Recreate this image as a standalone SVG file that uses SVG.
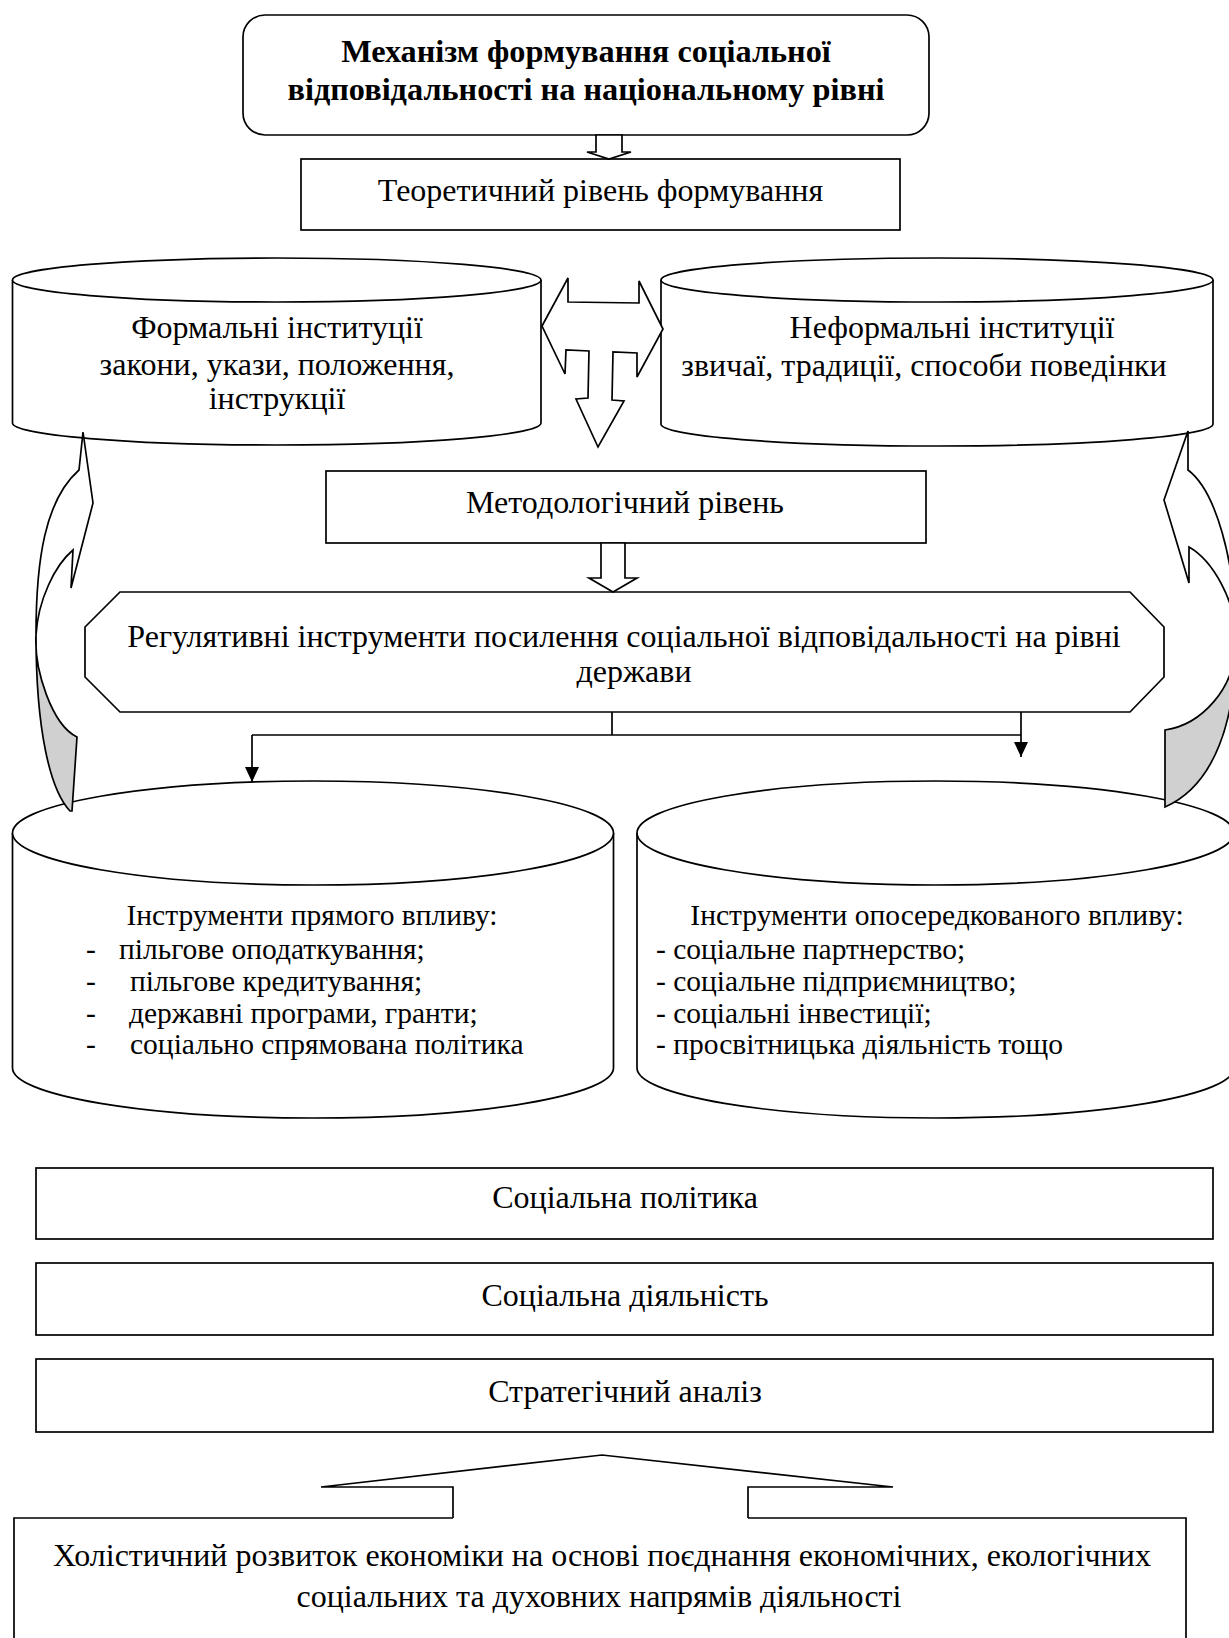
<svg xmlns="http://www.w3.org/2000/svg" width="1229" height="1638" viewBox="0 0 1229 1638">
<style>
.s{fill:#fff;stroke:#000;stroke-width:1.7}
.l{fill:none;stroke:#000;stroke-width:1.7}
.g{fill:#d0d0d0;stroke:#000;stroke-width:1.7}
.t{font-family:"Liberation Serif","Times New Roman",serif;font-size:32px;fill:#000}
.m{text-anchor:middle}
.b{font-weight:bold;font-size:32.3px}
.sm{font-size:29.5px}
</style>
<defs>
<marker id="ah" markerWidth="15" markerHeight="14" refX="15" refY="7" orient="auto" markerUnits="userSpaceOnUse"><path d="M0,0 L15,7 L0,14 Z" fill="#000"/></marker>
</defs>
<rect width="1229" height="1638" fill="#fff"/>

<g id="title">
<rect class="s" x="243" y="15" width="686" height="120" rx="22" ry="22"/>
<text class="t b m" x="586" y="62">Механізм формування соціальної</text>
<text class="t b m" x="586" y="100">відповідальності на національному рівні</text>
</g>

<g id="theoretical">
<rect class="s" x="301" y="159" width="599" height="71"/>
<text class="t m" x="600.5" y="201">Теоретичний рівень формування</text>
</g>

<g id="formal">
<path class="s" d="M12.5,280 V423 A264.25,22 0 0 0 541,423 V280"/>
<ellipse class="s" cx="276.75" cy="280" rx="264.25" ry="22"/>
<text class="t m" x="277" y="338">Формальні інституції</text>
<text class="t m" x="277" y="375">закони, укази, положення,</text>
<text class="t m" x="277" y="409">інструкції</text>
</g>

<g id="informal">
<path class="s" d="M661,280 V424 A276,22 0 0 0 1213,424 V280"/>
<ellipse class="s" cx="937" cy="280" rx="276" ry="22"/>
<text class="t m" x="952" y="338">Неформальні інституції</text>
<text class="t m" x="924" y="376">звичаї, традиції, способи поведінки</text>
</g>

<g id="methodological">
<rect class="s" x="326" y="471" width="600" height="72"/>
<text class="t m" x="625" y="513">Методологічний рівень</text>
</g>

<g id="regulatory">
<polygon class="s" points="120,592 1130,592 1164,627 1164,677 1130,712 120,712 85,677 85,627"/>
<text class="t m" x="624" y="647">Регулятивні інструменти посилення соціальної відповідальності на рівні</text>
<text class="t m" x="634" y="682">держави</text>
</g>

<g id="direct">
<path class="s" d="M12.5,833 V1068 A300.5,50 0 0 0 613.5,1068 V833"/>
<ellipse class="s" cx="313" cy="833" rx="300.5" ry="52"/>
<text class="t sm m" x="312" y="925">Інструменти прямого впливу:</text>
<text class="t sm" x="86" y="959">-</text>
<text class="t sm" x="119" y="959">пільгове оподаткування;</text>
<text class="t sm" x="86" y="991">-</text>
<text class="t sm" x="130" y="991">пільгове кредитування;</text>
<text class="t sm" x="86" y="1023">-</text>
<text class="t sm" x="129" y="1023">державні програми, гранти;</text>
<text class="t sm" x="86" y="1054">-</text>
<text class="t sm" x="130" y="1054">соціально спрямована політика</text>
</g>

<g id="indirect">
<path class="s" d="M637,833 V1068 A298.5,50 0 0 0 1234,1068 V833"/>
<ellipse class="s" cx="935.5" cy="833" rx="298.5" ry="52"/>
<text class="t sm m" x="937" y="925">Інструменти опосередкованого впливу:</text>
<text class="t sm" x="656" y="959">- соціальне партнерство;</text>
<text class="t sm" x="656" y="991">- соціальне підприємництво;</text>
<text class="t sm" x="656" y="1023">- соціальні інвестиції;</text>
<text class="t sm" x="656" y="1054">- просвітницька діяльність тощо</text>
</g>

<g id="social-policy">
<rect class="s" x="36" y="1168" width="1177" height="71"/>
<text class="t m" x="625" y="1208">Соціальна політика</text>
</g>

<g id="social-activity">
<rect class="s" x="36" y="1263" width="1177" height="72"/>
<text class="t m" x="625" y="1306">Соціальна діяльність</text>
</g>

<g id="strategic-analysis">
<rect class="s" x="36" y="1359" width="1177" height="73"/>
<text class="t m" x="625" y="1402">Стратегічний аналіз</text>
</g>

<g id="holistic">
<path class="s" d="M453,1518 H14 V1650 H1186 V1518 H748"/>
<text class="t m" x="602" y="1566">Холістичний розвиток економіки на основі поєднання економічних, екологічних</text>
<text class="t m" x="599" y="1607">соціальних та духовних напрямів діяльності</text>
</g>

<g id="connectors">
<polygon class="s" points="596,135 622,135 622,152 631,152 609,159 587,152 596,152"/>
<polygon class="s" points="542,326 568,278 568,302 639,303 639,281 663,329 637,377 637,353 613,352 612,400 624,401 598,447 576,399 588,398 589,351 566,350 565,374"/>
<polygon class="s" points="601,543 625,543 625,578 637,578 613,592 589,578 601,578"/>
<path class="s" d="M36,635 C36,560 45,500 79,470 L83,432 L93,503 L71,588 L73,550 C55,565 38,600 36,635 Z"/>
<path class="g" d="M36,635 C36,730 50,790 70,811 L72,811 L77,737 C52,725 34,670 36,635 Z"/>
<path class="s" d="M1236,640 C1236,560 1215,490 1188,470 L1188,431 L1164,500 L1189,583 L1189,547 C1212,560 1236,600 1236,640 Z"/>
<path class="g" d="M1236,640 C1236,720 1215,785 1165,807 L1165,730 C1200,725 1236,690 1236,640 Z"/>
<path class="l" d="M612,712 V735 M252,735 H1021"/>
<path class="l" d="M252,735 V782" marker-end="url(#ah)"/>
<path class="l" d="M1021,712 V757" marker-end="url(#ah)"/>
<polyline class="s" points="453,1518 453,1487 321,1487 602,1455 893,1487 748,1487 748,1518"/>
</g>
</svg>
